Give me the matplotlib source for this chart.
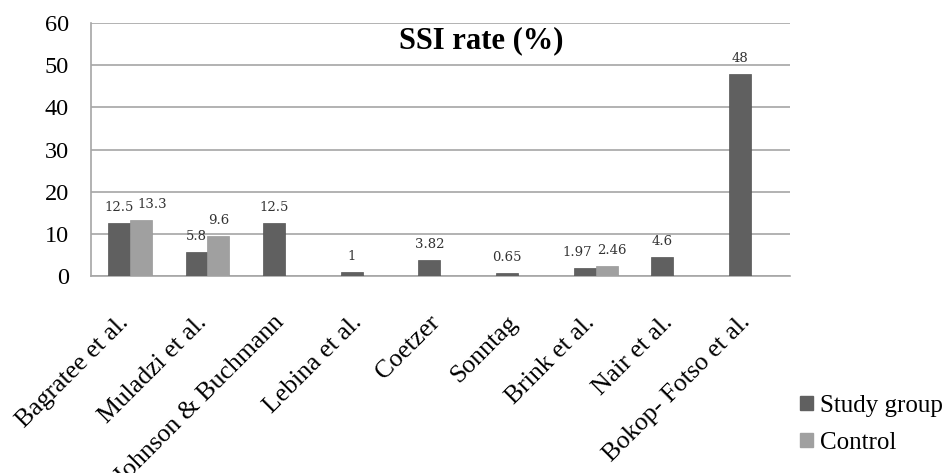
import matplotlib
matplotlib.use("Agg")
import matplotlib.pyplot as plt
import matplotlib.transforms as mtransforms
import numpy as np
from matplotlib.patches import Patch

categories = ["Bagratee et al.", "Muladzi et al.", "Johnson & Buchmann", "Lebina et al.",
              "Coetzer", "Sonntag", "Brink et al.", "Nair et al.", "Bokop- Fotso et al."]
study = [12.5, 5.8, 12.5, 1, 3.82, 0.65, 1.97, 4.6, 48]
control = [13.3, 9.6, None, None, None, None, 2.46, None, None]
study_labels = ["12.5", "5.8", "12.5", "1", "3.82", "0.65", "1.97", "4.6", "48"]
control_labels = ["13.3", "9.6", "", "", "", "", "2.46", "", ""]
yticks = [0, 10, 20, 30, 40, 50, 60]

c_study = "#606060"
c_control = "#a0a0a0"

# horizontal label nudges (points) to avoid overlapping labels, as in the reference
study_nudge = {6: -5}
control_nudge = {0: 8, 6: 4}

fig = plt.figure(figsize=(9.52, 4.73), dpi=100)
ax = fig.add_axes([0.0956, 0.4165, 0.734, 0.5345])

x = np.arange(len(categories))
w = 0.283
ax.bar(x - w / 2, study, width=w, color=c_study, edgecolor="#555555", linewidth=0.5, zorder=3)
cx = [xi + w / 2 for xi, v in zip(x, control) if v is not None]
cv = [v for v in control if v is not None]
ax.bar(cx, cv, width=w, color=c_control, edgecolor="#999999", linewidth=0.5, zorder=3)

lab_font = dict(family="DejaVu Serif", fontsize=9.5, color="#333333", ha="center", va="bottom")
for i, (xi, v, t) in enumerate(zip(x, study, study_labels)):
    ax.annotate(t, (xi - w / 2, v), xytext=(study_nudge.get(i, 0), 6.5),
                textcoords="offset points", **lab_font)
for i, (xi, v, t) in enumerate(zip(x, control, control_labels)):
    if v is not None:
        ax.annotate(t, (xi + w / 2, v), xytext=(control_nudge.get(i, 0), 6.5),
                    textcoords="offset points", **lab_font)

ax.set_xlim(-0.5, len(categories) - 0.5)
ax.set_ylim(0, 60)
ax.set_yticks(yticks)
ax.set_yticklabels([str(t) for t in yticks], family="Liberation Serif", fontsize=17.5)
ax.yaxis.grid(True, color="#a6a6a6", linewidth=1.2, zorder=0)
ax.set_axisbelow(True)
ax.tick_params(axis="y", length=0, pad=16)
ax.tick_params(axis="x", length=0, pad=31)
ax.set_xticks(x)
ax.set_xticklabels(categories, rotation=45, ha="right", va="center", rotation_mode="anchor",
                   family="Liberation Serif", fontsize=18.5)
shift = mtransforms.ScaledTranslation(-3 / 72, 0, fig.dpi_scale_trans)
for lbl in ax.get_xticklabels():
    lbl.set_transform(lbl.get_transform() + shift)
for s in ["top", "right"]:
    ax.spines[s].set_visible(False)
for s in ["left", "bottom"]:
    ax.spines[s].set_color("#a6a6a6")
    ax.spines[s].set_linewidth(1.2)

ax.text(0.559, 0.93, "SSI rate (%)", transform=ax.transAxes, ha="center", va="center",
        family="Liberation Serif", fontsize=22, fontweight="bold")

handles = [Patch(color=c_study, label="Study group"), Patch(color=c_control, label="Control")]
fig.legend(handles=handles, loc="center left", bbox_to_anchor=(800 / 952, 1 - 424 / 473),
           frameon=False, prop=dict(family="Liberation Serif", size=18),
           handlelength=0.5, handleheight=0.5, handletextpad=0.3, labelspacing=0.6,
           borderpad=0, borderaxespad=0)

fig.savefig("out.png", dpi=100)
